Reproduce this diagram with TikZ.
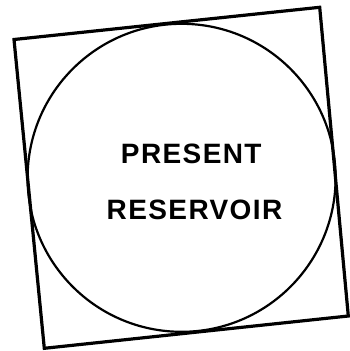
\documentclass[tikz,border=0pt]{standalone}
\usepackage{fontspec}
\newfontfamily\lblfont[LetterSpace=5]{Liberation Sans}
\begin{document}
\begin{tikzpicture}[x=1pt,y=-1pt,
  frame/.style={line width=3.2pt,line join=miter},
  ring/.style={line width=2.2pt},
  lbl/.style={font=\lblfont\bfseries\fontsize{28}{30}\selectfont,inner sep=0pt,anchor=base}]
\useasboundingbox (0,0) rectangle (349,351);
\coordinate (tl) at (14,39.5);
\coordinate (tr) at (319.7,7.3);
\coordinate (br) at (348.3,316);
\coordinate (bl) at (44.3,348.3);
\draw[frame] (tl) -- (tr) -- (br) -- (bl) -- cycle;
\coordinate (c) at (181.6,177.8);
\draw[ring] (c) circle[radius=154];
\node[lbl] (t1) at (191.3,163.3) {PRESENT};
\node[lbl] (t2) at (194.5,219.3) {RESERVOIR};
\end{tikzpicture}
\end{document}
